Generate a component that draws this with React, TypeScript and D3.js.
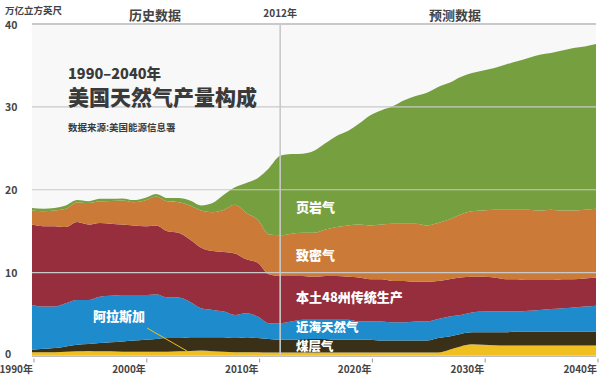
import React from "react";
import * as d3 from "d3";

const years: number[] = d3.range(1990, 2041);

const alaska: number[] = [0.40,0.40,0.40,0.45,0.50,0.55,0.50,0.50,0.45,0.45,0.45,0.45,0.45,0.50,0.55,0.60,0.50,0.45,0.40,0.40,0.40,0.35,0.35,0.35,0.35,0.35,0.35,0.35,0.35,0.35,0.35,0.35,0.35,0.35,0.35,0.35,0.35,0.70,1.10,1.35,1.30,1.25,1.20,1.20,1.20,1.20,1.20,1.20,1.20,1.20,1.20];
const coalbed: number[] = [0.30,0.40,0.50,0.65,0.80,0.85,1.00,1.10,1.25,1.35,1.45,1.55,1.65,1.60,1.65,1.60,1.70,1.75,1.70,1.80,1.70,1.65,1.55,1.55,1.65,1.65,1.65,1.55,1.55,1.55,1.55,1.45,1.45,1.45,1.45,1.45,1.75,1.60,1.50,1.45,1.50,1.55,1.60,1.70,1.70,1.70,1.70,1.70,1.70,1.70,1.70];
const offshore: number[] = [5.4,5.1,5.0,5.2,5.4,5.3,5.6,5.6,5.6,5.5,5.4,5.4,4.9,4.9,4.3,3.5,3.3,3.1,2.8,2.9,2.6,1.9,2.0,2.2,2.3,2.3,2.3,2.4,2.4,2.2,2.2,2.3,2.2,2.2,2.3,2.3,2.3,2.4,2.3,2.4,2.5,2.5,2.5,2.4,2.5,2.6,2.7,2.8,2.9,3.0,3.1];
const lower48: number[] = [9.7,9.7,9.7,9.2,9.4,9.1,8.9,8.7,8.5,8.4,8.3,8.3,8.0,7.8,7.5,7.3,7.1,7.2,7.4,6.5,6.5,5.9,5.7,5.5,5.3,5.2,5.3,5.3,5.2,5.3,5.1,5.1,5.0,5.0,4.8,4.8,4.6,4.5,4.5,4.3,4.2,4.1,3.9,3.9,3.7,3.6,3.5,3.5,3.4,3.4,3.4];
const tight: number[] = [1.7,1.8,1.9,2.2,2.4,2.6,2.6,2.75,2.9,2.8,3.1,3.5,3.6,3.7,4.1,4.5,4.7,5.1,5.9,5.6,5.2,4.8,4.9,5.1,5.2,5.3,5.6,5.9,6.2,6.4,6.5,6.6,6.9,6.9,7.0,6.8,7.0,7.2,7.6,7.9,8.0,8.2,8.4,8.4,8.5,8.4,8.5,8.3,8.3,8.3,8.3];
const shale: number[] = [0.3,0.3,0.3,0.4,0.25,0.2,0.3,0.25,0.25,0.25,0.3,0.3,0.4,0.5,0.6,0.6,1.1,1.8,2.1,3.6,5.0,8.0,9.6,9.6,9.55,9.9,10.4,11.0,11.4,12.2,13.3,13.8,14.2,14.9,15.4,16.0,16.4,16.5,16.6,16.7,16.9,17.1,17.5,17.9,18.3,18.8,18.9,19.3,19.6,19.7,19.9];

const seriesKeys = ["alaska", "coalbed", "offshore", "lower48", "tight", "shale"];
const seriesColors = ["#f0c020", "#3a3018", "#1e8ccc", "#962e3e", "#cc7a38", "#76a040"];
const yTicks = [0, 10, 20, 30, 40];
const xTicks = [1990, 2000, 2010, 2020, 2030, 2040];

const FONT = "'Noto Sans CJK SC', 'Noto Sans', sans-serif";

export default function App() {
  const x = d3.scaleLinear().domain([1990, 2040]).range([32, 596]);
  const y = d3.scaleLinear().domain([0, 40]).range([355.5, 24]);

  const rows = years.map((yr, i) => ({
    year: yr,
    alaska: alaska[i],
    coalbed: coalbed[i],
    offshore: offshore[i],
    lower48: lower48[i],
    tight: tight[i],
    shale: shale[i],
  }));
  const stacked = d3.stack<any>().keys(seriesKeys)(rows);
  const area = d3
    .area<any>()
    .x((d) => x(d.data.year))
    .y0((d) => y(d[0]))
    .y1((d) => y(d[1]))
    .curve(d3.curveMonotoneX);

  const x2012 = x(2012);

  return (
    <svg width={600} height={378} style={{ position: "absolute", left: 0, top: 0, background: "#fff" }} fontFamily={FONT}>
      <rect x={x(1990)} y={y(40)} width={x(2040) - x(1990)} height={y(0) - y(40)} fill="#f8f8f8" />
      {stacked.map((s, i) => (
        <path key={seriesKeys[i]} d={area(s) || ""} fill={seriesColors[i]} />
      ))}
      {yTicks.filter((t) => t > 0).map((t) => (
        <line key={t} x1={x(1990)} x2={x(2040)} y1={y(t)} y2={y(t)} stroke="#c9c9c9" strokeWidth={t === 40 ? 2 : 1.2} />
      ))}
      <line x1={x(1990)} x2={x(2040)} y1={y(0) + 0.8} y2={y(0) + 0.8} stroke="#bdbdbd" strokeWidth={1.5} />
      <line x1={x2012} x2={x2012} y1={y(40)} y2={y(0) + 1} stroke="#c8c8c8" strokeWidth={1.6} />
      {yTicks.map((t) => (
        <text key={t} x={5} y={t === 0 ? y(t) + 2 : t === 40 ? y(t) + 5 : y(t) + 4} fontSize={10.5} fontWeight={700} fill="#444">{t}</text>
      ))}
      {xTicks.map((t) => (
        <g key={t}>
          <line x1={x(t) + 2} x2={x(t) + 2} y1={y(0) + 3} y2={y(0) + 7} stroke="#999" strokeWidth={1} />
          <text x={x(t) + 1} y={373} fontSize={10} fontWeight={700} fill="#444" textAnchor="end">{t}年</text>
        </g>
      ))}
      <text x={5} y={14} fontSize={9.5} fontWeight={700} fill="#444">万亿立方英尺</text>
      <text x={155} y={20} fontSize={13} fontWeight={700} fill="#444" textAnchor="middle">历史数据</text>
      <text x={x2012} y={17} fontSize={10} fontWeight={700} fill="#444" textAnchor="middle">2012年</text>
      <text x={455} y={20} fontSize={13} fontWeight={700} fill="#444" textAnchor="middle">预测数据</text>

      <text x={68} y={79} fontSize={14.5} fontWeight={900} fill="#3a3a3a">1990–2040年</text>
      <text x={68} y={104.5} fontSize={21} fontWeight={900} fill="#3a3a3a">美国天然气产量构成</text>
      <text x={68} y={131} fontSize={9.5} fontWeight={700} fill="#3a3a3a">数据来源:美国能源信息署</text>

      <text x={296} y={212} fontSize={13} fontWeight={900} fill="#fff">页岩气</text>
      <text x={296} y={260} fontSize={13} fontWeight={900} fill="#fff">致密气</text>
      <text x={296} y={302} fontSize={13} fontWeight={900} fill="#fff">本土48州传统生产</text>
      <text x={296} y={332} fontSize={12.5} fontWeight={900} fill="#fff">近海天然气</text>
      <text x={296} y={351} fontSize={12.5} fontWeight={900} fill="#fff">煤层气</text>
      <text x={93} y={321} fontSize={13} fontWeight={900} fill="#fff">阿拉斯加</text>
      <line x1={147} y1={328} x2={187} y2={351} stroke="#f0c020" strokeWidth={1} />
    </svg>
  );
}
